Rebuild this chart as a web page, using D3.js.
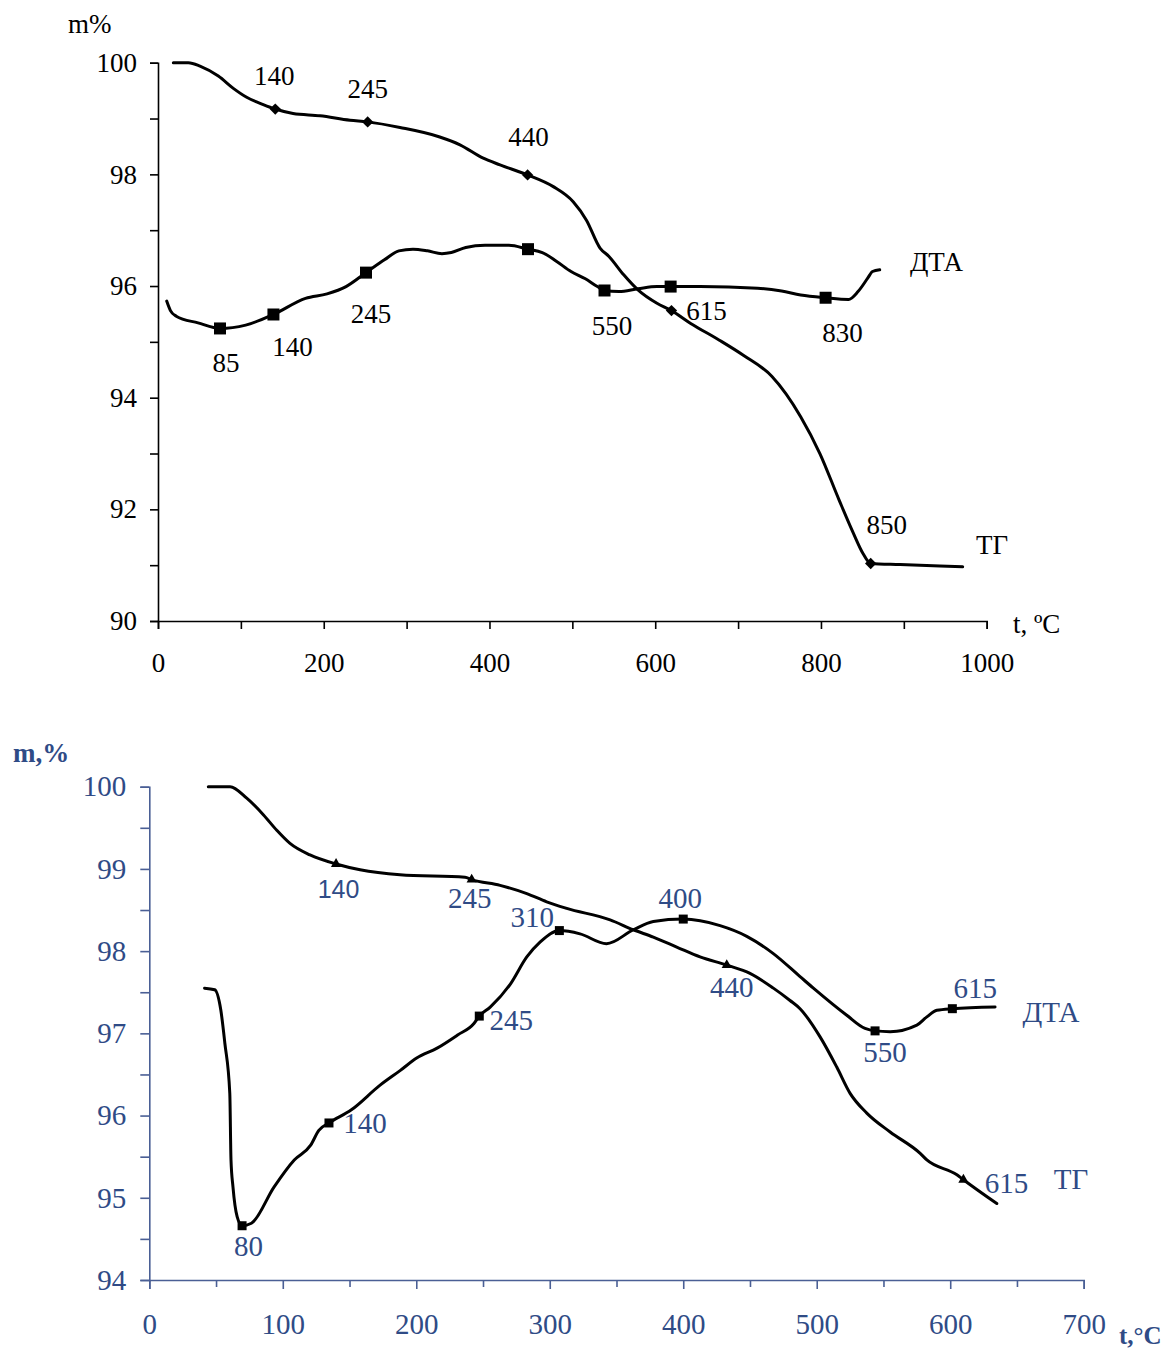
<!DOCTYPE html>
<html>
<head>
<meta charset="utf-8">
<script src="https://cdn.jsdelivr.net/npm/d3@7"></script>
<style>
  html, body { margin: 0; padding: 0; background: #fff; }
  svg { display: block; }
</style>
</head>
<body>
<svg id="chart" width="1168" height="1353"></svg>
<script>
// ---------------- DATA ----------------
// Chart 1 (top): TG curve, [t °C, m %]
const tg1 = [
  [18.5,100.0],[36.6,100.0],[50.7,99.94],[72.8,99.76],[90.9,99.54],[107,99.38],[127,99.25],
  [141.5,99.17],[163,99.09],[195.5,99.05],[231.7,98.97],[253,98.94],[292,98.84],[340,98.67],
  [364.4,98.53],[392.5,98.29],[412.7,98.17],[446,97.99],[477,97.78],[501,97.51],[517,97.18],
  [533.4,96.68],[544.2,96.53],[562,96.20],[579.2,95.93],[602.1,95.69],[619.6,95.56],[642.8,95.33],
  [677.4,95.03],[706.3,94.76],[740.9,94.38],[775.5,93.66],[798.7,93.00],[821.8,92.17],[839.2,91.57],
  [850.7,91.21],[860,91.03],[895.4,91.01],[971,90.97]
];
const tg1Marks = [[141.5,99.17],[253,98.94],[446,97.99],[619.6,95.56],[860,91.03]];
const tg1MarkLabels = ["140","245","440","615","850"];

// Chart 1: DTA curve
const dta1 = [
  [10.5,95.73],[15,95.56],[22,95.46],[48.3,95.34],[74.8,95.24],[105.8,95.30],[139.3,95.49],[178,95.78],
  [204,95.86],[226.9,95.99],[251,96.24],[273.2,96.47],[290.6,96.63],[307.7,96.66],[325.2,96.63],
  [342.6,96.58],[354,96.60],[371.4,96.69],[394.6,96.73],[423.4,96.73],[446.5,96.66],[463.7,96.60],
  [481.1,96.44],[498.4,96.26],[515.7,96.13],[530.2,95.99],[538.8,95.92],[556.2,95.90],[579.2,95.95],
  [602.1,95.99],[618.6,95.99],[654,95.99],[723.5,95.96],[752.5,95.91],[775.5,95.84],[805.6,95.79],
  [833.3,95.76],[844.7,95.90],[856.4,96.14],[862.2,96.26],[870.9,96.29]
];
const dta1Marks = [[74.8,95.24],[139.3,95.49],[251,96.24],[446.5,96.66],[538.8,95.92],[618.6,95.99],[805.6,95.79]];
const dta1MarkLabels = ["85","140","245","","550","","830"];

const x1Ticks = [0,100,200,300,400,500,600,700,800,900,1000];
const x1TickLabels = [0,200,400,600,800,1000];
const y1Ticks = [90,91,92,93,94,95,96,97,98,99,100];
const y1TickLabels = [90,92,94,96,98,100];

// Chart 2 (bottom): TG curve
const tg2 = [
  [44.2,100],[60.5,100],[73,99.86],[85.4,99.66],[95.5,99.47],[105.4,99.31],[120.4,99.17],
  [139.9,99.06],[157.9,98.99],[187.8,98.93],[236.5,98.90],[241.5,98.87],[262.8,98.80],[282.8,98.70],
  [297.7,98.60],[312.7,98.52],[345.2,98.38],[362.6,98.26],[377.6,98.17],[395.1,98.05],[412.6,97.93],
  [432.6,97.83],[450,97.73],[467.5,97.55],[480,97.40],[487.5,97.30],[502.4,96.96],[515,96.59],
  [525,96.27],[537.5,96.03],[555,95.80],[577.5,95.54],[582.5,95.46],[605,95.28],[609.9,95.22],
  [634.9,94.93]
];
const tg2Marks = [[139.9,99.06],[241.5,98.87],[432.6,97.83],[609.9,95.22]];
const tg2MarkLabels = ["140","245","440","615"];

// Chart 2: DTA curve
const dta2 = [
  [41.4,97.55],[49,97.53],[53.6,97.28],[56.6,96.88],[60.3,96.27],[61.2,95.46],[62.7,95.13],
  [65.8,94.77],[69.5,94.66],[76.5,94.69],[93.4,95.13],[108.6,95.46],[120.9,95.64],[127,95.82],
  [134.6,95.91],[151.4,96.07],[172.9,96.37],[188.1,96.55],[200.3,96.70],[215.6,96.82],[231,96.98],
  [243.2,97.12],[247.2,97.21],[255.4,97.32],[270.5,97.60],[282.8,97.93],[292.7,98.11],[307.2,98.25],
  [322.7,98.21],[342.5,98.09],[362.6,98.26],[377.6,98.36],[400,98.39],[427.6,98.31],
  [447.6,98.18],[467.5,97.97],[487.5,97.69],[497.5,97.55],[522.5,97.22],[536.2,97.06],[543.7,97.03],
  [555,97.02],[575,97.10],[582.5,97.20],[590,97.28],[601.6,97.30],[633.6,97.32]
];
const dta2Marks = [[69.5,94.66],[134.6,95.91],[247.2,97.21],[307.2,98.25],[400,98.39],[543.7,97.03],[601.6,97.30]];
const dta2MarkLabels = ["80","140","245","310","400","550","615"];

const x2Ticks = [0,50,100,150,200,250,300,350,400,450,500,550,600,650,700];
const x2TickLabels = [0,100,200,300,400,500,600,700];
const y2Ticks = [94,94.5,95,95.5,96,96.5,97,97.5,98,98.5,99,99.5,100];
const y2TickLabels = [94,95,96,97,98,99,100];

// ---------------- DRAWING ----------------
const svg = d3.select("#chart");
const SERIF = "'Liberation Serif','Times New Roman',serif";
const SANS = "'Liberation Sans',Arial,sans-serif";
const BLUE = "#2f4b86";
const BLUE_AX = "#4a5f95";

function drawAxes(x, y, opt) {
  const gx = svg.append("g")
    .attr("transform", `translate(0,${y.range()[0]})`)
    .call(d3.axisBottom(x).tickValues(opt.xTicks).tickSizeOuter(0).tickSize(opt.tickLen)
      .tickPadding(opt.xPad).tickFormat(d => opt.xLabels.includes(d) ? String(d) : ""));
  const gy = svg.append("g")
    .attr("transform", `translate(${x.range()[0]},0)`)
    .call(d3.axisLeft(y).tickValues(opt.yTicks).tickSizeOuter(0).tickSize(opt.tickLen)
      .tickPadding(opt.yPad).tickFormat(d => opt.yLabels.includes(d) ? String(d) : ""));
  [gx, gy].forEach(g => {
    g.attr("font-family", SERIF);
    g.select(".domain").attr("stroke", opt.axisColor).attr("stroke-width", opt.axisWidth);
    g.selectAll(".tick line").attr("stroke", opt.axisColor).attr("stroke-width", opt.axisWidth);
    g.selectAll(".tick text").attr("fill", opt.textColor)
      .style("font-family", SERIF).style("font-size", opt.fontSize + "px");
  });
  if (opt.minorShort) {
    gx.selectAll(".tick line").attr("y2", d => opt.xLabels.includes(d) ? opt.tickLen : opt.tickLen - 2);
  }
}

function drawCurve(x, y, data, width) {
  svg.append("path")
    .datum(data)
    .attr("fill", "none")
    .attr("stroke", "#000")
    .attr("stroke-width", width)
    .attr("stroke-linejoin", "round")
    .attr("stroke-linecap", "round")
    .attr("d", d3.line().x(d => x(d[0])).y(d => y(d[1])).curve(d3.curveMonotoneX));
}

function drawMarkers(x, y, marks, type, size, rotate) {
  svg.append("g").selectAll("path").data(marks).join("path")
    .attr("d", d3.symbol().type(type).size(size))
    .attr("fill", "#000")
    .attr("transform", d => `translate(${x(d[0])},${y(d[1])})${rotate ? " rotate(45)" : ""}`);
}

function drawMarkLabels(x, y, marks, labels, offsets, opt) {
  marks.forEach((d, i) => {
    if (!labels[i]) return;
    const o = offsets[i];
    svg.append("text")
      .attr("x", x(d[0]) + o[0])
      .attr("y", y(d[1]) + o[1] + opt.fontSize * 0.33)
      .attr("text-anchor", "middle")
      .attr("fill", opt.color)
      .style("font-family", (o[2] === "sans") ? SANS : SERIF)
      .style("font-size", (o[2] === "sans" ? opt.sansSize : opt.fontSize) + "px")
      .text(labels[i]);
  });
}

function addText(txt, px, py, opt) {
  svg.append("text")
    .attr("x", px).attr("y", py)
    .attr("text-anchor", opt.anchor || "start")
    .attr("fill", opt.color || "#000")
    .style("font-family", opt.family || SERIF)
    .style("font-size", opt.size + "px")
    .style("font-weight", opt.weight || "normal")
    .text(txt);
}

// ---- Chart 1 ----
const x1 = d3.scaleLinear().domain([0, 1000]).range([158, 986.7]);
const y1 = d3.scaleLinear().domain([90, 100]).range([621, 62.7]);
drawAxes(x1, y1, {
  xTicks: x1Ticks, xLabels: x1TickLabels, yTicks: y1Ticks, yLabels: y1TickLabels,
  tickLen: 8, xPad: 24, yPad: 13, axisColor: "#000", axisWidth: 1.6, textColor: "#000", fontSize: 27
});
drawCurve(x1, y1, tg1, 3);
drawCurve(x1, y1, dta1, 3);
drawMarkers(x1, y1, tg1Marks, d3.symbolSquare, 64, true);
drawMarkers(x1, y1, dta1Marks, d3.symbolSquare, 144, false);
drawMarkLabels(x1, y1, tg1Marks, tg1MarkLabels,
  [[-1,-33],[0,-33],[1,-37.5],[35,1],[16,-38]], {fontSize: 27, color: "#000"});
drawMarkLabels(x1, y1, dta1Marks, dta1MarkLabels,
  [[6,35],[19,33],[5,41],[0,0],[7.5,36],[0,0],[17,35]], {fontSize: 27, color: "#000"});
addText("m%", 68, 33, {size: 27});
addText("t, ºC", 1013, 633, {size: 27});
addText("ДТА", 936.5, 271, {size: 27, anchor: "middle"});
addText("ТГ", 992, 554, {size: 27, anchor: "middle"});

// ---- Chart 2 ----
const x2 = d3.scaleLinear().domain([0, 700]).range([149.3, 1083.7]);
const y2 = d3.scaleLinear().domain([94, 100]).range([1280, 786.7]);
drawAxes(x2, y2, {
  xTicks: x2Ticks, xLabels: x2TickLabels, yTicks: y2Ticks, yLabels: y2TickLabels,
  tickLen: 9, xPad: 24, yPad: 14, axisColor: BLUE_AX, axisWidth: 1.6, textColor: BLUE, fontSize: 29,
  minorShort: true
});
drawCurve(x2, y2, tg2, 3);
drawCurve(x2, y2, dta2, 3);
drawMarkers(x2, y2, tg2Marks, d3.symbolTriangle, 45, false);
drawMarkers(x2, y2, dta2Marks, d3.symbolSquare, 81, false);
drawMarkLabels(x2, y2, tg2Marks, tg2MarkLabels,
  [[2.5,24,"sans"],[-2,19],[5,22],[43,4]], {fontSize: 29, sansSize: 25, color: BLUE});
drawMarkLabels(x2, y2, dta2Marks, dta2MarkLabels,
  [[6.5,21],[36,0],[32,4],[-27,-13],[-3,-21],[10,22],[23,-20]], {fontSize: 29, color: BLUE});
addText("m,%", 13, 762, {size: 27, weight: "bold", color: BLUE});
addText("t,°C", 1119, 1344, {size: 25, weight: "bold", color: BLUE});
addText("ДТА", 1051, 1022, {size: 29, anchor: "middle", color: BLUE});
addText("ТГ", 1071, 1189, {size: 29, anchor: "middle", color: BLUE});
</script>
</body>
</html>
